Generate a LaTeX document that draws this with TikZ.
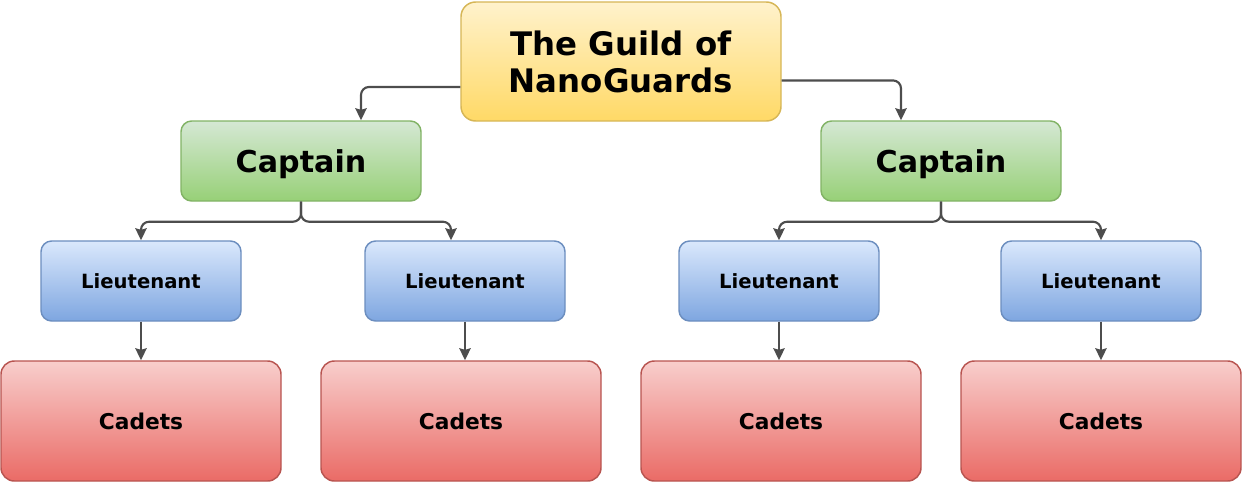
\documentclass[tikz,border=0pt]{standalone}
\usepackage{fontspec}
\setmainfont{DejaVu Sans}
\usetikzlibrary{arrows.meta}
\definecolor{guildtop}{HTML}{FFF2CC}
\definecolor{guildbot}{HTML}{FFD966}
\definecolor{guildline}{HTML}{D6B656}
\definecolor{captop}{HTML}{D5E8D4}
\definecolor{capbot}{HTML}{97D077}
\definecolor{capline}{HTML}{82B366}
\definecolor{lttop}{HTML}{DAE8FC}
\definecolor{ltbot}{HTML}{7EA6E0}
\definecolor{ltline}{HTML}{6C8EBF}
\definecolor{cadtop}{HTML}{F8CECC}
\definecolor{cadbot}{HTML}{EA6B66}
\definecolor{cadline}{HTML}{B85450}
\definecolor{wire}{HTML}{4D4D4D}
\begin{document}
\begin{tikzpicture}[x=0.75pt, y=-0.75pt,
    box/.style={line width=1.1pt, inner sep=0pt, align=center},
    guildbox/.style={box, rounded corners=11pt, draw=guildline, top color=guildtop, bottom color=guildbot,
        minimum width=240pt, minimum height=89.25pt, font=\bfseries\fontsize{24.3}{27.75}\selectfont},
    capbox/.style={box, rounded corners=8pt, draw=capline, top color=captop, bottom color=capbot, text depth=0pt,
        minimum width=180pt, minimum height=60pt, font=\bfseries\fontsize{22.6}{25}\selectfont},
    ltbox/.style={box, rounded corners=8pt, draw=ltline, top color=lttop, bottom color=ltbot, text depth=0pt,
        minimum width=150pt, minimum height=60pt, font=\bfseries\fontsize{14.7}{17}\selectfont},
    cadbox/.style={box, rounded corners=10pt, draw=cadline, top color=cadtop, bottom color=cadbot, text depth=0pt,
        minimum width=210pt, minimum height=90pt, font=\bfseries\fontsize{16.3}{18}\selectfont},
    link/.style={draw=wire, line width=1.6pt, rounded corners=6pt, -{Stealth[length=9pt,width=8.5pt,inset=1.2pt]}}]
    \useasboundingbox (0,0) rectangle (1242,482);

    % Guild at the top
    \node[guildbox] (guild) at (621,61.5) {The Guild of\\NanoGuards};

    % Captains
    \node[capbox] (capL) at (301,161) {Captain};
    \node[capbox] (capR) at (941,161) {Captain};

    % Lieutenants
    \node[ltbox] (ltA) at (141,281) {Lieutenant};
    \node[ltbox] (ltB) at (465,281) {Lieutenant};
    \node[ltbox] (ltC) at (779,281) {Lieutenant};
    \node[ltbox] (ltD) at (1101,281) {Lieutenant};

    % Cadets
    \node[cadbox] (cadA) at (141,421) {Cadets};
    \node[cadbox] (cadB) at (461,421) {Cadets};
    \node[cadbox] (cadC) at (781,421) {Cadets};
    \node[cadbox] (cadD) at (1101,421) {Cadets};

    % Guild -> captains
    \draw[link] ([yshift=-19.1pt]guild.west) -| ([xshift=45pt]capL.north);
    \draw[link] ([yshift=-14.2pt]guild.east) -| ([xshift=-30pt]capR.north);

    % Captains -> lieutenants
    \draw[link] (capL.south) -- ++(0,20) -| (ltA.north);
    \draw[link] (capL.south) -- ++(0,20) -| ([xshift=-10.5pt]ltB.north);
    \draw[link] (capR.south) -- ++(0,20) -| (ltC.north);
    \draw[link] (capR.south) -- ++(0,20) -| (ltD.north);

    % Lieutenants -> cadets
    \draw[link] (ltA.south) -- (ltA.south |- cadA.north);
    \draw[link] (ltB.south) -- (ltB.south |- cadB.north);
    \draw[link] (ltC.south) -- (ltC.south |- cadC.north);
    \draw[link] (ltD.south) -- (ltD.south |- cadD.north);
\end{tikzpicture}
\end{document}
